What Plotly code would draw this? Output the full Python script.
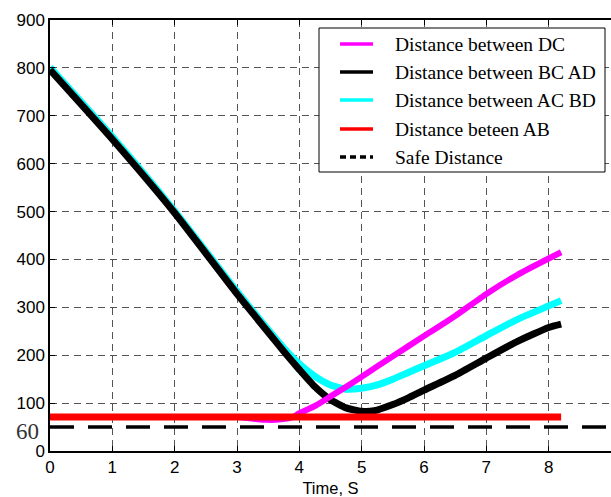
import plotly.graph_objects as go

# ---- data ----
t_dc = [0, 1, 2, 3, 3.1, 3.3, 3.5, 3.7, 3.9, 4.0, 4.25, 4.5, 4.75, 5.0, 5.5, 6.0, 6.5, 7.0, 7.5, 8.0, 8.2]
dist_dc = [71, 71, 71, 71, 70, 67, 65, 66, 71, 79, 94, 114, 134, 155, 198, 240, 282, 328, 368, 402, 415]

t_bcad = [0, 1, 2, 3, 3.5, 3.75, 4.0, 4.25, 4.5, 4.75, 5.0, 5.2, 5.5, 5.75, 6.0, 6.5, 7.0, 7.5, 8.0, 8.2]
dist_bcad = [796, 651, 497, 328, 248, 208, 170, 134, 107, 90, 83, 84, 97, 111, 127, 158, 194, 229, 258, 265]

t_acbd = [0, 1, 2, 3, 3.5, 3.75, 4.0, 4.25, 4.5, 4.75, 5.0, 5.25, 5.5, 5.75, 6.0, 6.5, 7.0, 7.5, 8.0, 8.2]
dist_acbd = [801, 656, 501, 333, 253, 215, 182, 156, 138, 129, 131, 138, 150, 164, 178, 206, 241, 275, 303, 314]

t_ab = [0, 8.2]
dist_ab = [71, 71]

# safe-distance line: labelled "60" in the reference, drawn at about 50 on its y scale
t_safe = [0, 9]
safe_level = [50, 50]
safe_label = "60"

x_ticks = [0, 1, 2, 3, 4, 5, 6, 7, 8, 9]
y_ticks = [0, 100, 200, 300, 400, 500, 600, 700, 800, 900]

legend_names = ["Distance between DC", "Distance between BC AD", "Distance between AC BD",
                "Distance beteen AB", "Safe Distance"]
legend_colors = ["#FF00FF", "#000000", "#00FFFF", "#FF0000", "#000000"]
legend_dash = ["solid", "solid", "solid", "solid", "6px,4px"]

# plot-area pixel geometry (for placing the hand-made legend box)
L, T, W, H = 50, 20, 561, 431
def px(x):
    return (x - L) / W
def py(y):
    return 1 - (y - T) / H

fig = go.Figure()
fig.add_trace(go.Scatter(x=t_acbd, y=dist_acbd, mode="lines", name=legend_names[2],
                         line=dict(color="#00FFFF", width=7, shape="spline", smoothing=0.5), showlegend=False))
fig.add_trace(go.Scatter(x=t_bcad, y=dist_bcad, mode="lines", name=legend_names[1],
                         line=dict(color="#000000", width=7, shape="spline", smoothing=0.5), showlegend=False))
fig.add_trace(go.Scatter(x=t_dc, y=dist_dc, mode="lines", name=legend_names[0],
                         line=dict(color="#FF00FF", width=6, shape="spline", smoothing=0.5), showlegend=False))
fig.add_trace(go.Scatter(x=t_ab, y=dist_ab, mode="lines", name=legend_names[3],
                         line=dict(color="#FF0000", width=7), showlegend=False))
fig.add_trace(go.Scatter(x=t_safe, y=safe_level, mode="lines", name=legend_names[4],
                         line=dict(color="#000000", width=3.5, dash="24px,14px"), showlegend=False))

fig.add_annotation(x=0, xref="paper", y=safe_level[0], yref="y", text=safe_label,
                   showarrow=False, xanchor="right", yanchor="middle", xshift=-9, yshift=-4,
                   font=dict(family="Liberation Serif", size=23, color="#333333"))

# hand-made legend
fig.add_shape(type="rect", xref="paper", yref="paper", x0=px(319), x1=px(605), y0=py(172), y1=py(28),
              line=dict(color="#000000", width=1), fillcolor="white", layer="above")
row_y = [44, 72, 100, 129, 157]
for name, col, dsh, yy in zip(legend_names, legend_colors, legend_dash, row_y):
    fig.add_shape(type="line", xref="paper", yref="paper", x0=px(340), x1=px(373), y0=py(yy), y1=py(yy),
                  line=dict(color=col, width=3.5, dash=dsh), layer="above")
    fig.add_annotation(xref="paper", yref="paper", x=px(393), y=py(yy), text=name, showarrow=False,
                       xanchor="left", yanchor="middle",
                       font=dict(family="Liberation Serif", size=19.5, color="#000000"))

fig.update_layout(
    width=611, height=497,
    margin=dict(l=50, r=0, t=20, b=46),
    paper_bgcolor="white", plot_bgcolor="white",
    font=dict(family="Liberation Sans", size=17, color="#000000"),
    showlegend=False,
    xaxis=dict(range=[0, 9], tickvals=x_ticks, showline=True, linecolor="#000000", linewidth=1.5,
               mirror="ticks", ticks="inside", ticklen=5, tickcolor="#000000",
               showgrid=True, gridcolor="#555555", gridwidth=1, griddash="7px,5px",
               zeroline=False, title=dict(text="Time, S", font=dict(size=16.5), standoff=6),
               tickfont=dict(size=17)),
    yaxis=dict(range=[0, 900], tickvals=y_ticks, showline=True, linecolor="#000000", linewidth=1.5,
               ticks="inside", ticklen=5, tickcolor="#000000",
               showgrid=True, gridcolor="#555555", gridwidth=1, griddash="7px,5px",
               zeroline=False, tickfont=dict(size=17)),
)

fig.write_html("out.html")
